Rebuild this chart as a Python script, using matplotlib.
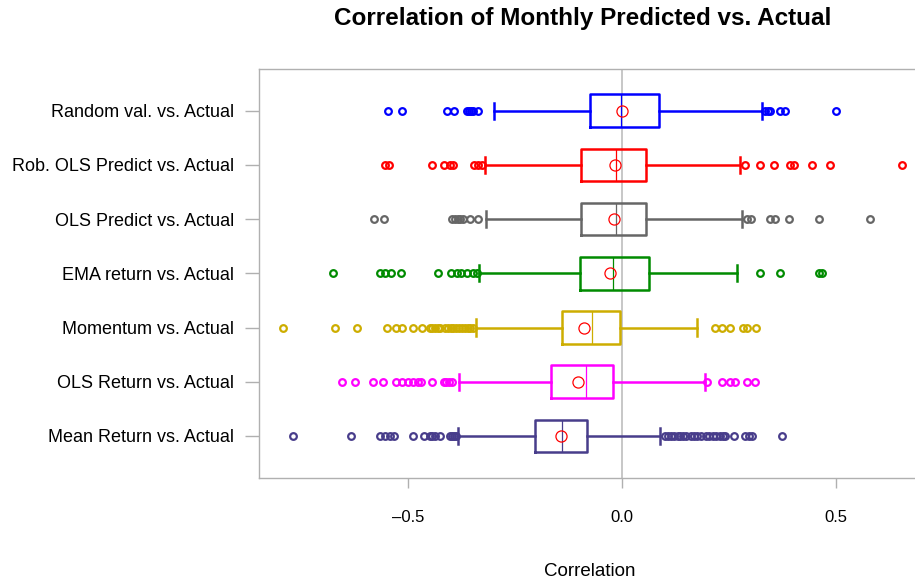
import matplotlib
matplotlib.use("Agg")
import matplotlib.pyplot as plt

plt.rcParams["font.family"] = ["Liberation Sans", "DejaVu Sans"]

# ── Data ───────────────────────────────────────────────────────────────────
labels = [
    "Mean Return vs. Actual",
    "OLS Return vs. Actual",
    "Momentum vs. Actual",
    "EMA return vs. Actual",
    "OLS Predict vs. Actual",
    "Rob. OLS Predict vs. Actual",
    "Random val. vs. Actual",
]
colors = ["#483D8B", "#FF00FF", "#CDAD00", "#008B00", "#666666", "#FF0000", "#0000FF"]

q1 = [-0.203, -0.167, -0.141, -0.098, -0.096, -0.096, -0.076]
medians = [-0.141, -0.084, -0.070, -0.020, -0.015, -0.015, -0.002]
q3 = [-0.083, -0.022, -0.004, 0.062, 0.057, 0.057, 0.087]
means = [-0.143, -0.104, -0.089, -0.028, -0.018, -0.016, 0.001]
whis_lo = [-0.382, -0.380, -0.342, -0.333, -0.318, -0.320, -0.298]
whis_hi = [0.089, 0.194, 0.174, 0.269, 0.280, 0.276, 0.327]

fliers_mean_ret = [-0.769, -0.632, -0.565, -0.554, -0.542, -0.533, -0.488, -0.463,
                   -0.449, -0.443, -0.437, -0.425, -0.403, -0.398, -0.393, -0.388,
                   0.100, 0.108, 0.115, 0.122, 0.130, 0.136, 0.142, 0.150, 0.160,
                   0.168, 0.175, 0.185, 0.195, 0.203, 0.212, 0.220, 0.228, 0.236,
                   0.241, 0.262, 0.287, 0.296, 0.303, 0.373]
fliers_ols_ret = [-0.655, -0.624, -0.581, -0.559, -0.527, -0.515, -0.499, -0.488,
                  -0.476, -0.470, -0.443, -0.417, -0.411, -0.404, -0.398,
                  0.198, 0.234, 0.252, 0.264, 0.293, 0.311]
fliers_momentum = [-0.791, -0.671, -0.620, -0.550, -0.527, -0.515, -0.488, -0.468,
                   -0.449, -0.443, -0.437, -0.431, -0.425, -0.414, -0.407, -0.400,
                   -0.394, -0.387, -0.381, -0.374, -0.367, -0.360, -0.354, -0.348,
                   0.217, 0.233, 0.252, 0.283, 0.293, 0.312]
fliers_ema = [-0.674, -0.565, -0.554, -0.540, -0.517, -0.431, -0.400, -0.386,
              -0.375, -0.361, -0.347, -0.339, 0.323, 0.368, 0.459, 0.467]
fliers_ols_pred = [-0.579, -0.555, -0.398, -0.391, -0.384, -0.378, -0.371,
                   -0.355, -0.336, 0.291, 0.301, 0.346, 0.357, 0.389, 0.459, 0.580]
fliers_rob_ols = [-0.553, -0.545, -0.445, -0.415, -0.402, -0.394, -0.345, -0.336,
                  -0.328, 0.287, 0.322, 0.355, 0.393, 0.402, 0.443, 0.486, 0.655]
fliers_random = [-0.546, -0.513, -0.410, -0.393, -0.363, -0.358, -0.352, -0.347,
                 -0.336, 0.334, 0.340, 0.346, 0.369, 0.381, 0.500]
fliers = [fliers_mean_ret, fliers_ols_ret, fliers_momentum, fliers_ema,
          fliers_ols_pred, fliers_rob_ols, fliers_random]

xticks = [-0.5, 0.0, 0.5]


def main():
    fig = plt.figure(figsize=(9.15, 5.82), dpi=100)
    ax = fig.add_axes([259 / 915, (582 - 477.7) / 582, 661 / 915, 408.7 / 582])

    positions = list(range(1, len(labels) + 1))
    ax.axvline(0, color="#BEBEBE", lw=1.2, zorder=0)

    for i, pos in enumerate(positions):
        c = colors[i]
        stats = [{
            "med": medians[i], "q1": q1[i], "q3": q3[i],
            "whislo": whis_lo[i], "whishi": whis_hi[i],
            "fliers": fliers[i], "mean": means[i],
        }]
        ax.bxp(stats, positions=[pos], vert=False, widths=0.6, showmeans=True,
               manage_ticks=False, patch_artist=False,
               boxprops=dict(color=c, lw=1.8),
               whiskerprops=dict(color=c, lw=1.8),
               capprops=dict(color=c, lw=1.8),
               medianprops=dict(color=c, lw=0.9),
               flierprops=dict(marker="o", markerfacecolor="none",
                               markeredgecolor=c, markersize=4.8,
                               markeredgewidth=1.6, linestyle="none"),
               meanprops=dict(marker="o", markerfacecolor="none",
                              markeredgecolor="#FF0000", markersize=8,
                              markeredgewidth=0.9))

    ax.set_xlim(-0.848, 0.696)
    ax.set_ylim(0.23, 7.77)
    ax.set_yticks(positions)
    ax.set_yticklabels(labels, fontsize=13)
    ax.set_xticks(xticks)
    ax.set_xticklabels([f"{t:.1f}".replace("-", "\u2013") for t in xticks], fontsize=12)
    ax.tick_params(axis="y", length=10, color="#B0B0B0", width=1.0, pad=8)
    ax.tick_params(axis="x", length=7.5, color="#B0B0B0", width=1.0, pad=16)
    for sp in ax.spines.values():
        sp.set_color("#B0B0B0")
        sp.set_linewidth(1.0)

    ax.set_xlabel("Correlation", fontsize=13.5, labelpad=27)
    fig.text(583 / 915, 1 - 18 / 582, "Correlation of Monthly Predicted vs. Actual",
             ha="center", va="center", fontsize=17.5, fontweight="bold")

    fig.savefig("out.png", dpi=100)
    plt.close(fig)


if __name__ == "__main__":
    main()
